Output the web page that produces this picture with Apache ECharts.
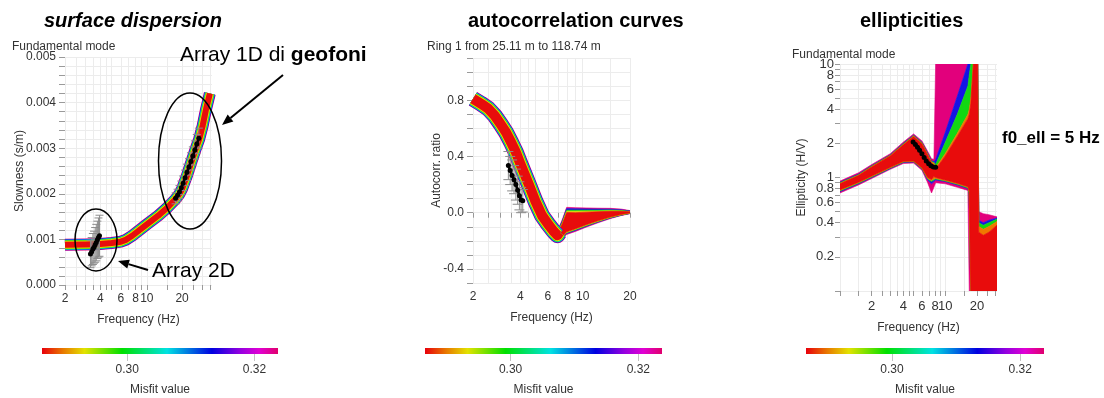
<!DOCTYPE html>
<html><head><meta charset="utf-8">
<script src="https://cdn.jsdelivr.net/npm/echarts@6/dist/echarts.min.js"></script>
<style>html,body{margin:0;padding:0;background:#fff}#c{width:1104px;height:398px}</style>
</head><body><div id="c"></div>
<script>
// ---------- Panel 1: surface dispersion (slowness vs frequency) ----------
const DISP_F = [2, 3, 4, 5, 6, 6.6, 7.5, 10, 12.5, 15, 17.5, 19, 20, 22, 24, 26, 28, 30, 32, 34.5];
const DISP_S = [0.00088, 0.00089, 0.0009, 0.00092, 0.00095, 0.00099, 0.00108, 0.00133, 0.00152, 0.0017, 0.00188, 0.002, 0.00211, 0.0024, 0.0027, 0.00297, 0.0032, 0.0035, 0.00385, 0.0042];
const DISP_OBS2D_F = [3.3, 3.38, 3.46, 3.54, 3.62, 3.7, 3.78, 3.86, 3.94];
const DISP_OBS2D_V = [0.00068, 0.00073, 0.00079, 0.00083, 0.00088, 0.00093, 0.00099, 0.00104, 0.00108];
const DISP_OBS2D_E = [0.0003, 0.00031, 0.00034, 0.00035, 0.00038, 0.0004, 0.00041, 0.00043, 0.00045];
const DISP_OBS1D_F = [17.6, 18.3, 19.0, 19.7, 20.4, 21.2, 22.0, 22.9, 23.8, 24.7, 25.7, 26.7, 27.8];
const DISP_OBS1D_V = [0.0019, 0.00197, 0.00204, 0.00213, 0.00223, 0.00235, 0.00247, 0.00259, 0.00271, 0.00283, 0.00296, 0.00309, 0.00322];
const DISP_OBS1D_E = [0.00012, 0.00013, 0.00014, 0.00015, 0.00016, 0.00017, 0.00018, 0.00018, 0.00019, 0.0002, 0.0002, 0.00021, 0.00022];
const DISP_XTICKS = [2, 2.5, 3, 3.5, 4, 4.5, 5, 6, 7, 8, 9, 10, 15, 20, 25, 30, 35];
const DISP_XLABELS = [2, 4, 6, 8, 10, 20];
const DISP_YTICKS = [0, 0.0002, 0.0004, 0.0006, 0.0008, 0.001, 0.0012, 0.0014, 0.0016, 0.0018, 0.002, 0.0022, 0.0024, 0.0026, 0.0028, 0.003, 0.0032, 0.0034, 0.0036, 0.0038, 0.004, 0.0042, 0.0044, 0.0046, 0.0048, 0.005];
const DISP_YLABELS = [0, 0.001, 0.002, 0.003, 0.004, 0.005];

// ---------- Panel 2: autocorrelation curves ----------
const AC_F = [2, 2.25, 2.5, 2.75, 3, 3.25, 3.5, 3.75, 4, 4.5, 5, 5.5, 6, 6.5, 6.9, 7.1];
const AC_V = [0.81, 0.775, 0.74, 0.69, 0.63, 0.57, 0.5, 0.43, 0.35, 0.21, 0.08, -0.02, -0.08, -0.13, -0.16, -0.14];
const AC_FAN_F = [6.9, 7.4, 7.9, 9, 10.5, 12.5, 15, 17.5, 20];
const AC_M_UP = [-0.13, -0.05, 0.038, 0.036, 0.034, 0.032, 0.031, 0.026, 0.015];
const AC_M_LO = [-0.19, -0.185, -0.155, -0.133, -0.103, -0.072, -0.042, -0.021, -0.007];
const AC_B_UP = [-0.135, -0.06, 0.029, 0.028, 0.027, 0.026, 0.025, 0.021, 0.012];
const AC_B_LO = [-0.185, -0.18, -0.148, -0.126, -0.097, -0.067, -0.038, -0.018, -0.005];
const AC_G_UP = [-0.14, -0.07, 0.018, 0.018, 0.018, 0.018, 0.019, 0.016, 0.009];
const AC_G_LO = [-0.182, -0.176, -0.143, -0.121, -0.093, -0.063, -0.035, -0.016, -0.004];
const AC_Y_UP = [-0.145, -0.075, 0.01, 0.01, 0.011, 0.012, 0.014, 0.012, 0.008];
const AC_Y_LO = [-0.18, -0.174, -0.14, -0.118, -0.09, -0.061, -0.033, -0.015, -0.003];
const AC_R_UP = [-0.15, -0.08, 0.002, 0.0, 0.004, 0.007, 0.01, 0.01, 0.007];
const AC_R_LO = [-0.178, -0.171, -0.136, -0.114, -0.086, -0.058, -0.031, -0.013, -0.002];
const AC_OBS_F = [3.36, 3.45, 3.55, 3.65, 3.75, 3.85, 3.95, 4.05, 4.15];
const AC_OBS_V = [0.335, 0.3, 0.265, 0.235, 0.2, 0.16, 0.12, 0.09, 0.085];
const AC_OBS_E = [0.1, 0.1, 0.11, 0.1, 0.11, 0.1, 0.1, 0.09, 0.08];
const AC_XTICKS = [2, 2.5, 3, 3.5, 4, 4.5, 5, 6, 7, 8, 9, 10, 15, 20];
const AC_XLABELS = [2, 4, 6, 8, 10, 20];
const AC_YLABELS = [-0.4, 0, 0.4, 0.8];

// ---------- Panel 3: ellipticities (envelopes per misfit class) ----------
const ELL_F = [1, 1.5, 2, 3, 4, 5, 6, 6.8, 7.4, 7.8, 8.1, 10, 13, 16.4, 16.9, 17.5, 18.5, 19.5, 20.3, 20.8, 23, 26, 31];
const ELL_M_UP = [0.93, 1.1, 1.3, 1.62, 2.05, 2.42, 2.1, 1.7, 1.46, 1.45, 10, 10, 10, 10, 10, 10, 10, 10, 10, 0.5, 0.48, 0.47, 0.45];
const ELL_M_LO = [0.73, 0.86, 0.98, 1.18, 1.33, 1.34, 1.16, 0.9, 0.73, 0.82, 0.9, 0.88, 0.82, 0.77, 0.1, 0.1, 0.1, 0.1, 0.1, 0.1, 0.1, 0.1, 0.1];
const ELL_B_UP = [0.91, 1.07, 1.27, 1.58, 2.0, 2.36, 2.04, 1.64, 1.4, 1.38, 1.44, 2.5, 5.2, 10, 10, 10, 10, 10, 10, 0.42, 0.4, 0.42, 0.44];
const ELL_B_LO = [0.75, 0.88, 1.0, 1.2, 1.36, 1.37, 1.19, 0.95, 0.88, 0.92, 0.95, 0.92, 0.86, 0.8, 0.7, 0.1, 0.1, 0.1, 0.1, 0.1, 0.1, 0.1, 0.1];
const ELL_G_UP = [0.9, 1.06, 1.26, 1.57, 1.98, 2.34, 2.02, 1.62, 1.38, 1.36, 1.3, 2.04, 3.6, 6.4, 8.0, 10, 10, 10, 10, 0.4, 0.38, 0.4, 0.43];
const ELL_G_LO = [0.76, 0.89, 1.01, 1.21, 1.37, 1.38, 1.2, 0.97, 0.92, 0.95, 0.97, 0.93, 0.87, 0.81, 0.72, 0.1, 0.1, 0.1, 0.1, 0.1, 0.1, 0.1, 0.1];
const ELL_Y_UP = [0.89, 1.05, 1.25, 1.56, 1.96, 2.32, 2.0, 1.6, 1.36, 1.34, 1.22, 1.63, 2.45, 3.6, 4.0, 5.0, 10, 10, 10, 0.37, 0.35, 0.37, 0.41];
const ELL_Y_LO = [0.77, 0.9, 1.02, 1.22, 1.38, 1.39, 1.21, 0.98, 0.94, 0.97, 0.98, 0.94, 0.88, 0.82, 0.74, 0.1, 0.1, 0.1, 0.1, 0.1, 0.1, 0.1, 0.1];
const ELL_R_UP = [0.88, 1.04, 1.24, 1.55, 1.94, 2.3, 1.98, 1.58, 1.34, 1.28, 1.18, 1.55, 2.3, 3.3, 3.6, 4.5, 10, 10, 10, 0.33, 0.31, 0.33, 0.38];
const ELL_R_LO = [0.78, 0.91, 1.03, 1.23, 1.39, 1.4, 1.22, 1.0, 0.96, 1.02, 1.0, 0.95, 0.89, 0.83, 0.76, 0.1, 0.1, 0.1, 0.1, 0.1, 0.1, 0.1, 0.1];
const ELL_OBS_F = [4.95, 5.2, 5.45, 5.7, 6.0, 6.3, 6.6, 6.95, 7.3, 7.7, 8.1];
const ELL_OBS_V = [2.05, 1.95, 1.85, 1.74, 1.62, 1.5, 1.4, 1.32, 1.27, 1.24, 1.23];
const ELL_XTICKS = [1, 1.5, 2, 2.5, 3, 3.5, 4, 4.5, 5, 6, 7, 8, 9, 10, 15, 20, 25, 30];
const ELL_XLABELS = [2, 4, 6, 8, 10, 20];
const ELL_YTICKS = [0.1, 0.2, 0.3, 0.4, 0.5, 0.6, 0.7, 0.8, 0.9, 1, 2, 3, 4, 5, 6, 7, 8, 9, 10];
const ELL_YLABELS = [0.2, 0.4, 0.6, 0.8, 1, 2, 4, 6, 8];
const ELL_YLABEL_TOP = [10];

// ---------- Colour bar (misfit) ----------
const MISFIT_MIN = 0.2866, MISFIT_MAX = 0.3237;
const MISFIT_LABELS = [0.30, 0.32];
const MISFIT_STOPS = [0, 0.09, 0.18, 0.34, 0.53, 0.72, 0.84, 0.92, 1];
const MISFIT_COLORS = ['#e8000c', '#e87a00', '#e2e200', '#00e000', '#00e2e2', '#0000e0', '#9400e0', '#e000d4', '#e0006c'];

const FONT = '"Liberation Sans", Arial, Helvetica, sans-serif';
const C = {mag: '#e2007c', blue: '#1414e6', cyan: '#00d6e0', green: '#12d812', yellow: '#e4d400', orange: '#f07800', red: '#e80c0c'};

const chart = echarts.init(document.getElementById('c'), null, {renderer: 'canvas'});

function pts(F, V) { return F.map((f, i) => [f, V[i]]); }

// filled strip between two boundary curves, projected point by point through the axes
function strip(idx, F, up, lo, color, z) {
  return {
    type: 'custom', xAxisIndex: idx, yAxisIndex: idx, clip: true, silent: true, z: z,
    data: F.map((f, i) => [f, up[i], lo[i]]),
    renderItem: function (p, api) {
      if (p.dataIndex !== 0) return null;
      const P = [];
      for (let i = 0; i < F.length; i++) P.push(api.coord([F[i], up[i]]));
      for (let i = F.length - 1; i >= 0; i--) P.push(api.coord([F[i], lo[i]]));
      return {type: 'polygon', shape: {points: P}, style: {fill: color, stroke: color, lineWidth: 0.6}};
    }
  };
}
function stripsFor(idx, F, L, z) {
  // L: list of [up, lo, color] from outer (worst misfit) to inner (best misfit)
  const out = [];
  for (let k = 0; k < L.length; k++) {
    const cur = L[k], nxt = L[k + 1];
    if (!nxt) { out.push(strip(idx, F, cur[0], cur[1], cur[2], z)); break; }
    out.push(strip(idx, F, cur[0], nxt[0], cur[2], z));
    out.push(strip(idx, F, nxt[1], cur[1], cur[2], z));
  }
  return out;
}
function bandLine(idx, F, V, color, w, z) {
  return {type: 'line', xAxisIndex: idx, yAxisIndex: idx, data: pts(F, V), showSymbol: false, silent: true, z: z,
    clip: true, lineStyle: {color: color, width: w, join: 'round'}};
}
function errBars(idx, F, V, E, cap) {
  return {
    type: 'custom', xAxisIndex: idx, yAxisIndex: idx, silent: true, z: 20, clip: true,
    data: F.map((f, i) => [f, V[i], E[i]]),
    renderItem: function (p, api) {
      const f = api.value(0), v = api.value(1), e = api.value(2);
      const a = api.coord([f, v + e]), b = api.coord([f, v - e]);
      const st = {stroke: '#8c8c8c', lineWidth: 1};
      return {type: 'group', children: [
        {type: 'line', shape: {x1: a[0], y1: a[1], x2: b[0], y2: b[1]}, style: st},
        {type: 'line', shape: {x1: a[0] - cap, y1: a[1], x2: a[0] + cap, y2: a[1]}, style: st},
        {type: 'line', shape: {x1: b[0] - cap, y1: b[1], x2: b[0] + cap, y2: b[1]}, style: st}
      ]};
    }
  };
}
function obsLine(idx, F, V) {
  return {type: 'line', xAxisIndex: idx, yAxisIndex: idx, data: pts(F, V), silent: true, z: 30,
    symbol: 'circle', symbolSize: 5, showSymbol: true, itemStyle: {color: '#000'},
    lineStyle: {color: '#000', width: 2.5}};
}
function colorBar(idx) {
  return {
    type: 'custom', xAxisIndex: idx, yAxisIndex: idx, silent: true,
    data: [[MISFIT_MIN, MISFIT_MAX]],
    renderItem: function (p, api) {
      const a = api.coord([api.value(0), 1]), b = api.coord([api.value(1), 0]);
      const stops = MISFIT_STOPS.map((s, i) => ({offset: s, color: MISFIT_COLORS[i]}));
      return {type: 'rect', shape: {x: a[0], y: a[1], width: b[0] - a[0], height: b[1] - a[1]},
        style: {fill: new echarts.graphic.LinearGradient(0, 0, 1, 0, stops)}};
    }
  };
}

const labelStyle = {color: '#333', fontSize: 12, fontFamily: FONT, hideOverlap: false};
const nameStyle = {color: '#333', fontSize: 12, fontFamily: FONT};
const gridLine = {show: true, lineStyle: {color: '#ececec', width: 1}};
const tickStyle = {lineStyle: {color: '#9a9a9a', width: 1}};

function fmtNum(v) { return String(+(+v).toPrecision(4)); }

const xAxes = [
  {type: 'log', gridIndex: 0, min: 2, max: 36, axisLine: {show: false},
    axisTick: Object.assign({show: true, length: 5, customValues: DISP_XTICKS}, tickStyle),
    axisLabel: Object.assign({customValues: DISP_XLABELS, margin: 8, formatter: fmtNum}, labelStyle),
    splitLine: gridLine,
    name: 'Frequency (Hz)', nameLocation: 'middle', nameGap: 29, nameTextStyle: nameStyle},
  {type: 'log', gridIndex: 1, min: 2, max: 20, axisLine: {show: false},
    axisTick: Object.assign({show: true, length: 5, customValues: AC_XTICKS}, tickStyle),
    axisLabel: Object.assign({customValues: AC_XLABELS, margin: 8, formatter: fmtNum}, labelStyle),
    splitLine: gridLine,
    name: 'Frequency (Hz)', nameLocation: 'middle', nameGap: 29, nameTextStyle: nameStyle},
  {type: 'log', gridIndex: 2, min: 1, max: 31, axisLine: {show: false},
    axisTick: Object.assign({show: true, length: 5, customValues: ELL_XTICKS}, tickStyle),
    axisLabel: Object.assign({customValues: ELL_XLABELS, margin: 9, formatter: fmtNum}, labelStyle, {fontSize: 13}),
    splitLine: gridLine,
    name: 'Frequency (Hz)', nameLocation: 'middle', nameGap: 31, nameTextStyle: nameStyle}
];
const yAxes = [
  {type: 'value', gridIndex: 0, min: 0, max: 0.005, axisLine: {show: false},
    axisTick: Object.assign({show: true, length: 6, customValues: DISP_YTICKS}, tickStyle),
    axisLabel: Object.assign({customValues: DISP_YLABELS, margin: 9, formatter: v => (+v).toFixed(3)}, labelStyle),
    splitLine: gridLine,
    name: 'Slowness (s/m)', nameLocation: 'middle', nameGap: 39, nameMoveOverlap: false, nameTextStyle: nameStyle},
  {type: 'value', gridIndex: 1, min: -0.5, max: 1.1, interval: 0.1, axisLine: {show: false},
    axisTick: Object.assign({show: true, length: 6}, tickStyle),
    axisLabel: Object.assign({customValues: AC_YLABELS, margin: 9, formatter: v => (+v).toFixed(1)}, labelStyle),
    splitLine: gridLine,
    name: 'Autocorr. ratio', nameLocation: 'middle', nameGap: 30, nameMoveOverlap: false, nameTextStyle: nameStyle},
  {type: 'log', gridIndex: 2, min: 0.1, max: 10, axisLine: {show: false},
    axisTick: Object.assign({show: true, length: 5, customValues: ELL_YTICKS}, tickStyle),
    axisLabel: Object.assign({customValues: ELL_YLABELS, margin: 6, formatter: fmtNum}, labelStyle, {fontSize: 13}),
    splitLine: gridLine,
    name: 'Ellipticity (H/V)', nameLocation: 'middle', nameGap: 32, nameMoveOverlap: false, nameTextStyle: nameStyle}
];
const cbLefts = [42, 425, 806], cbWidths = [236, 237, 238];
for (let k = 0; k < 3; k++) {
  xAxes.push({type: 'value', gridIndex: 3 + k, min: MISFIT_MIN, max: MISFIT_MAX, axisLine: {show: false},
    axisTick: {show: true, length: 7, customValues: MISFIT_LABELS, lineStyle: {color: '#c4c4c4'}},
    axisLabel: Object.assign({customValues: MISFIT_LABELS, margin: 10, formatter: v => (+v).toFixed(2)}, labelStyle),
    splitLine: {show: false},
    name: 'Misfit value', nameLocation: 'middle', nameGap: 30, nameTextStyle: nameStyle});
  yAxes.push({type: 'value', gridIndex: 3 + k, min: 0, max: 1, show: false});
}
// extra label-only axis for the top "10" of the ellipticity axis (it overlaps "8" as in the original)
yAxes.push({type: 'log', gridIndex: 2, min: 0.1, max: 10, position: 'left', axisLine: {show: false}, axisTick: {show: false},
  splitLine: {show: false}, axisLabel: Object.assign({customValues: ELL_YLABEL_TOP, margin: 6, formatter: fmtNum, showMaxLabel: true}, labelStyle, {fontSize: 13})});

const series = [];
// panel 1 band
[[C.mag, 12], [C.blue, 11], [C.cyan, 10], [C.green, 9], [C.yellow, 8], [C.red, 6]].forEach((s, i) =>
  series.push(bandLine(0, DISP_F, DISP_S, s[0], s[1], 2 + i)));
series.push(errBars(0, DISP_OBS2D_F, DISP_OBS2D_V, DISP_OBS2D_E, 4));
series.push(errBars(0, DISP_OBS1D_F, DISP_OBS1D_V, DISP_OBS1D_E, 4));
series.push(obsLine(0, DISP_OBS2D_F, DISP_OBS2D_V));
series.push(obsLine(0, DISP_OBS1D_F, DISP_OBS1D_V));
// panel 2 fan + band
series.push(...stripsFor(1, AC_FAN_F, [[AC_M_UP, AC_M_LO, C.mag], [AC_B_UP, AC_B_LO, C.blue], [AC_G_UP, AC_G_LO, C.green],
  [AC_Y_UP, AC_Y_LO, C.yellow], [AC_R_UP, AC_R_LO, C.red]], 2));
[[C.mag, 16], [C.blue, 15], [C.cyan, 14], [C.green, 13], [C.yellow, 12], [C.red, 10]].forEach((s, i) =>
  series.push(bandLine(1, AC_F, AC_V, s[0], s[1], 7 + i)));
series.push(errBars(1, AC_OBS_F, AC_OBS_V, AC_OBS_E, 5));
series.push(obsLine(1, AC_OBS_F, AC_OBS_V));
// panel 3 strips
series.push(...stripsFor(2, ELL_F, [[ELL_M_UP, ELL_M_LO, C.mag], [ELL_B_UP, ELL_B_LO, C.blue], [ELL_G_UP, ELL_G_LO, C.green],
  [ELL_Y_UP, ELL_Y_LO, C.orange], [ELL_R_UP, ELL_R_LO, C.red]], 2));
series.push(obsLine(2, ELL_OBS_F, ELL_OBS_V));
// colour bars
for (let k = 0; k < 3; k++) series.push(colorBar(3 + k));

function arrow(x1, y1, x2, y2) {
  const dx = x2 - x1, dy = y2 - y1, L = Math.hypot(dx, dy), ux = dx / L, uy = dy / L;
  const bx = x2 - ux * 11, by = y2 - uy * 11, px = -uy * 4.5, py = ux * 4.5;
  return [
    {type: 'line', z: 100, shape: {x1: x1, y1: y1, x2: bx, y2: by}, style: {stroke: '#000', lineWidth: 2}},
    {type: 'polygon', z: 100, shape: {points: [[x2, y2], [bx + px, by + py], [bx - px, by - py]]}, style: {fill: '#000'}}
  ];
}

const option = {
  animation: false,
  backgroundColor: '#fff',
  textStyle: {fontFamily: FONT},
  title: [
    {text: 'surface dispersion', left: 39, top: 6, textStyle: {fontSize: 20, fontWeight: 'bold', fontStyle: 'italic', color: '#000', fontFamily: FONT}},
    {text: 'autocorrelation curves', left: 463, top: 6, textStyle: {fontSize: 20, fontWeight: 'bold', color: '#000', fontFamily: FONT}},
    {text: 'ellipticities', left: 855, top: 6, textStyle: {fontSize: 20, fontWeight: 'bold', color: '#000', fontFamily: FONT}}
  ],
  grid: [
    {left: 65, top: 57, width: 147, height: 228},
    {left: 473, top: 58, width: 157, height: 225},
    {left: 840, top: 64, width: 157, height: 227},
    {left: cbLefts[0], top: 348, width: cbWidths[0], height: 6},
    {left: cbLefts[1], top: 348, width: cbWidths[1], height: 6},
    {left: cbLefts[2], top: 348, width: cbWidths[2], height: 6}
  ],
  xAxis: xAxes,
  yAxis: yAxes,
  series: series,
  graphic: [
    {type: 'text', left: 12, top: 41, z: 100, style: {text: 'Fundamental mode', fontSize: 12, fontFamily: FONT, fill: '#333'}},
    {type: 'text', left: 427, top: 41, z: 100, style: {text: 'Ring 1 from 25.11 m to 118.74 m', fontSize: 12, fontFamily: FONT, fill: '#333'}},
    {type: 'text', left: 792, top: 49, z: 100, style: {text: 'Fundamental mode', fontSize: 12, fontFamily: FONT, fill: '#333'}},
    {type: 'text', left: 1002, top: 130, z: 100, style: {text: 'f0_ell = 5 Hz', fontSize: 17, fontWeight: 'bold', fontFamily: FONT, fill: '#000'}},
    {type: 'text', left: 180, top: 45, z: 100, style: {text: '{a|Array 1D di }{b|geofoni}', rich: {a: {fontSize: 21, fontFamily: FONT, fill: '#000'}, b: {fontSize: 21, fontWeight: 'bold', fontFamily: FONT, fill: '#000'}}}},
    {type: 'text', left: 152, top: 261, z: 100, style: {text: 'Array 2D', fontSize: 21, fontFamily: FONT, fill: '#000'}},
    {type: 'ellipse', z: 100, shape: {cx: 96, cy: 240, rx: 21, ry: 31}, style: {stroke: '#000', fill: null, lineWidth: 1.5}},
    {type: 'ellipse', z: 100, shape: {cx: 190, cy: 161, rx: 31.5, ry: 68}, style: {stroke: '#000', fill: null, lineWidth: 1.5}}
  ].concat(arrow(283, 75, 222, 125)).concat(arrow(148, 270, 118, 261))
};
chart.setOption(option);
</script>
</body></html>
